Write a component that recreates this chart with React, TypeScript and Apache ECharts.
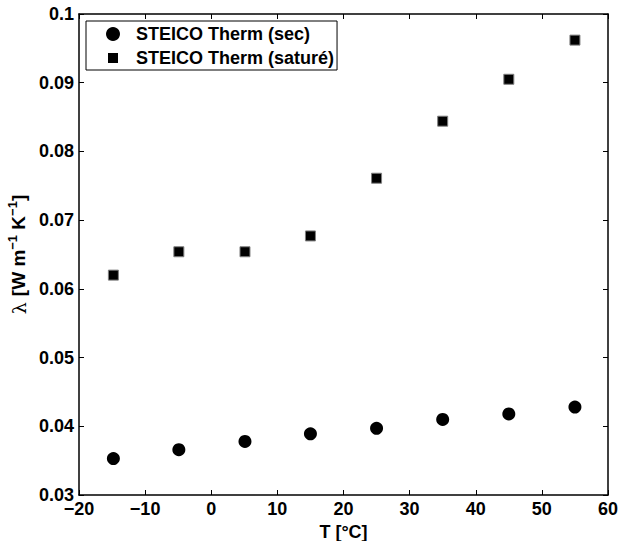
import React, { useEffect, useRef } from "react";
import * as echarts from "echarts";

const temperatures = [-14.8, -4.9, 5.1, 15.0, 25.0, 35.0, 45.0, 55.0];
const lambdaDry = [0.0353, 0.0366, 0.0378, 0.0389, 0.0397, 0.041, 0.0418, 0.0428];
const lambdaSat = [0.062, 0.0654, 0.0654, 0.0677, 0.0761, 0.0844, 0.0905, 0.0962];
const seriesNames = ["STEICO Therm (sec)", "STEICO Therm (saturé)"];
const xTicks = { min: -20, max: 60, interval: 10 };
const yTicks = { min: 0.03, max: 0.1, interval: 0.01 };

const FONT = "'Liberation Sans', Arial, Helvetica, sans-serif";

export default function App() {
  const ref = useRef<HTMLDivElement>(null);
  useEffect(() => {
    if (!ref.current) return;
    const chart = echarts.init(ref.current, null, { renderer: "svg" });
    const axisLine = { show: true, onZero: false, lineStyle: { color: "#000", width: 1.5 } };
    const tick = { show: true, inside: true, length: 5, lineStyle: { color: "#000", width: 1 } };
    const minusFmt = (v: number) => {
      const s = String(Math.round(v * 1000) / 1000);
      return s.replace("-", "\u2212");
    };
    chart.setOption({
      animation: false,
      backgroundColor: "#fff",
      grid: { left: 79, top: 14, width: 529, height: 481, outerBoundsMode: "none" },
      legend: {
        show: true,
        orient: "vertical",
        left: 86,
        top: 21,
        itemWidth: 14,
        itemHeight: 14,
        itemGap: 6,
        padding: [4, 3, 3, 20],
        borderColor: "#000",
        borderWidth: 1,
        backgroundColor: "#fff",
        selectedMode: false,
        textStyle: {
          fontSize: 18,
          fontWeight: "bold",
          color: "#000",
          fontFamily: FONT,
          padding: [0, 0, 0, 11],
        },
        data: [
          { name: seriesNames[0], icon: "circle", itemStyle: { color: "#000", opacity: 1 } },
          {
            name: seriesNames[1],
            icon: "path://M0,0M14,14M2,2h10v10h-10z",
            itemStyle: { color: "#000", opacity: 1, borderWidth: 0 },
          },
        ],
      },
      xAxis: [
        {
          type: "value",
          min: xTicks.min,
          max: xTicks.max,
          interval: xTicks.interval,
          position: "bottom",
          name: "T [°C]",
          nameLocation: "middle",
          nameGap: 24,
          nameTextStyle: { fontSize: 18, fontWeight: "bold", color: "#000", fontFamily: FONT },
          axisLine,
          axisTick: tick,
          splitLine: { show: false },
          axisLabel: {
            color: "#000",
            fontSize: 18,
            fontWeight: "bold",
            fontFamily: FONT,
            margin: 5,
            formatter: minusFmt,
          },
        },
        {
          type: "value",
          min: xTicks.min,
          max: xTicks.max,
          interval: xTicks.interval,
          position: "top",
          axisLine,
          axisTick: tick,
          splitLine: { show: false },
          axisLabel: { show: false },
        },
      ],
      yAxis: [
        {
          type: "value",
          min: yTicks.min,
          max: yTicks.max,
          interval: yTicks.interval,
          position: "left",
          name: "{l|λ }{b|[W m}{s|−1}{b| K}{s|−1}{b|]}",
          nameLocation: "middle",
          nameRotate: 90,
          nameGap: 40,
          nameTextStyle: {
            color: "#000",
            rich: {
              l: { fontSize: 19, fontWeight: "normal", fontFamily: "'DejaVu Serif', serif", color: "#000", lineHeight: 25 },
              b: { fontSize: 19, fontWeight: "bold", fontFamily: FONT, color: "#000", lineHeight: 25 },
              s: { fontSize: 13, fontWeight: "bold", fontFamily: FONT, color: "#000", lineHeight: 13, verticalAlign: "top" },
            },
          },
          axisLine,
          axisTick: tick,
          splitLine: { show: false },
          axisLabel: {
            color: "#000",
            fontSize: 18,
            fontWeight: "bold",
            fontFamily: FONT,
            margin: 5,
            formatter: minusFmt,
          },
        },
        {
          type: "value",
          min: yTicks.min,
          max: yTicks.max,
          interval: yTicks.interval,
          position: "right",
          axisLine,
          axisTick: tick,
          splitLine: { show: false },
          axisLabel: { show: false },
        },
      ],
      series: [
        {
          name: seriesNames[0],
          type: "scatter",
          symbol: "circle",
          symbolSize: 13,
          itemStyle: { color: "#000", opacity: 1 },
          emphasis: { disabled: true },
          data: temperatures.map((t, i) => [t, lambdaDry[i]]),
        },
        {
          name: seriesNames[1],
          type: "scatter",
          symbol: "rect",
          symbolSize: 10,
          itemStyle: { color: "#000", opacity: 1, borderColor: "#808080", borderWidth: 1 },
          emphasis: { disabled: true },
          data: temperatures.map((t, i) => [t, lambdaSat[i]]),
        },
      ],
    });
    return () => chart.dispose();
  }, []);
  return (
    <div
      ref={ref}
      style={{ position: "fixed", left: 0, top: 0, width: 619, height: 541, background: "#fff" }}
    />
  );
}
